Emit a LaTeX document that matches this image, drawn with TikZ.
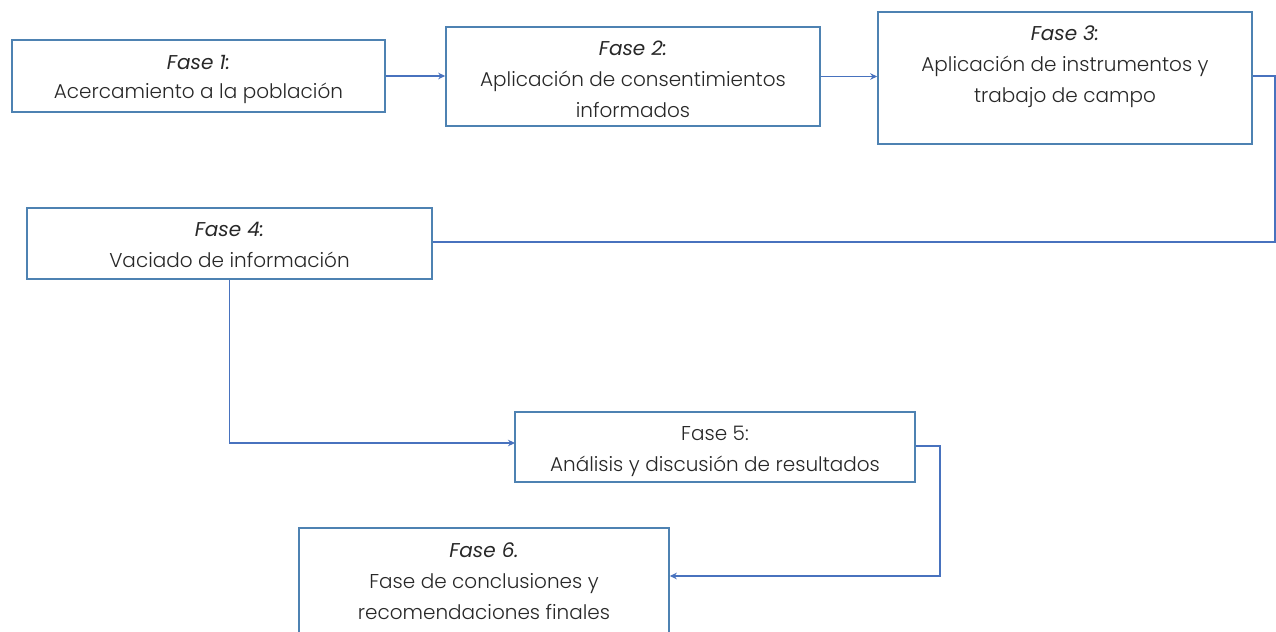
\documentclass[tikz,border=0pt]{standalone}
\usepackage{fontspec}
\setmainfont{Poppins}[UprightFont={* Light}, ItalicFont={* Italic}]
\usetikzlibrary{arrows.meta}
\definecolor{boxblue}{RGB}{78,130,178}
\definecolor{lineblue}{RGB}{72,114,190}
\definecolor{txt}{RGB}{40,40,40}
\tikzset{
  fbox/.style={draw=boxblue, line width=1.6bp, fill=white, rectangle, inner sep=0pt},
  ftext/.style={anchor=base, inner sep=0pt, text=txt, font=\fontsize{20bp}{30bp}\selectfont},
  conn/.style={draw=lineblue, line width=1.3bp},
  arr/.style={conn, -{Stealth[length=7bp, width=6.5bp]}}
}
\begin{document}
\begin{tikzpicture}[x=1bp, y=-1bp]
\useasboundingbox (0,0) rectangle (1276,632);
\clip (0,0) rectangle (1276,632);
% boxes
\node[fbox, minimum width=373bp, minimum height=72bp] (f1) at (198.5,76) {};
\node[fbox, minimum width=374bp, minimum height=99bp] (f2) at (633,76.5) {};
\node[fbox, minimum width=374bp, minimum height=132bp] (f3) at (1065,78) {};
\node[fbox, minimum width=405bp, minimum height=71bp] (f4) at (229.5,243.5) {};
\node[fbox, minimum width=400bp, minimum height=70bp] (f5) at (715,447) {};
\node[fbox, minimum width=370bp, minimum height=132bp] (f6) at (484,594) {};
% texts
\node[ftext] (t1a) at (198.5,70) {\textit{Fase 1:}};
\node[ftext] (t1b) at (198.5,99) {Acercamiento a la población};
\node[ftext] (t2a) at (633,56) {\textit{Fase 2:}};
\node[ftext] (t2b) at (633,87) {Aplicación de consentimientos};
\node[ftext] (t2c) at (633,118) {informados};
\node[ftext] (t3a) at (1065,41) {\textit{Fase 3:}};
\node[ftext] (t3b) at (1065,72) {Aplicación de instrumentos y};
\node[ftext] (t3c) at (1065,103) {trabajo de campo};
\node[ftext] (t4a) at (229.5,237) {\textit{Fase 4:}};
\node[ftext] (t4b) at (229.5,268) {Vaciado de información};
\node[ftext] (t5a) at (715,440) {Fase 5:};
\node[ftext] (t5b) at (715,471) {Análisis y discusión de resultados};
\node[ftext] (t6a) at (484,557) {\textit{Fase 6.}};
\node[ftext] (t6b) at (484,588) {Fase de conclusiones y};
\node[ftext] (t6c) at (484,619) {recomendaciones finales};
% helper coordinates
\coordinate (r1) at (1275,76);
\coordinate (r2) at (1275,242);
\coordinate (d1) at (940,446);
\coordinate (d2) at (940,576);
\coordinate (e5) at (515,443);
% connectors
\draw[arr] (f1.east) -- (f1.east -| f2.west);
\draw[arr] (f2.east) -- (f2.east -| f3.west);
\draw[conn] (f3.east |- r1) -- (r1) -- (r2) -- (r2 -| f4.east);
\draw[arr] (f4.south) |- (e5);
\draw[arr] (f5.east |- d1) -- (d1) -- (d2) -- (d2 -| f6.east);
\end{tikzpicture}
\end{document}
